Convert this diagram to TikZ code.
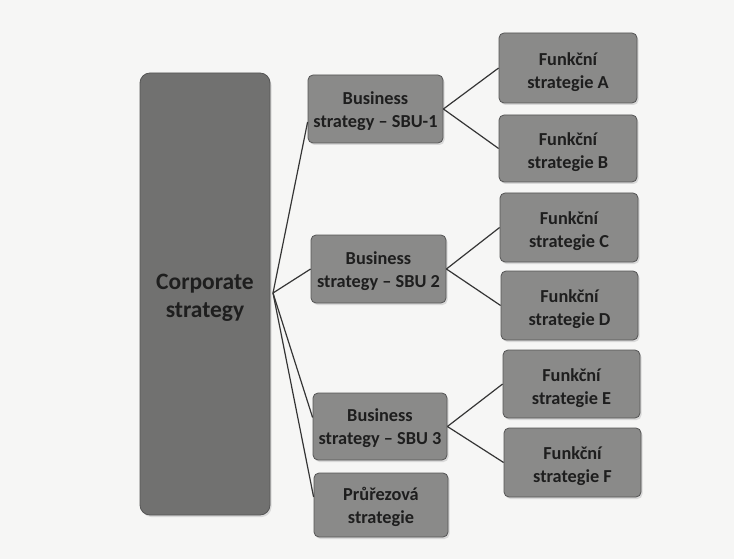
\documentclass[tikz,border=0pt]{standalone}
\usepackage{fontspec}
\setmainfont{Carlito}
\usetikzlibrary{shadows}
\definecolor{pagebg}{HTML}{F6F6F5}
\definecolor{boxfill}{HTML}{8A8A89}
\definecolor{bigfill}{HTML}{717170}
\definecolor{boxline}{HTML}{555555}
\definecolor{inktext}{HTML}{1E1E1E}
\definecolor{linkline}{HTML}{353535}
\tikzset{
  box/.style={rectangle, rounded corners=5pt, draw=boxline, line width=0.8pt,
    fill=boxfill, inner sep=0pt,
    drop shadow={shadow xshift=1.5pt, shadow yshift=-2pt, fill=black!22, opacity=0.6}},
  bigbox/.style={box, rounded corners=10pt, fill=bigfill},
  boxtext/.style={text=inktext, align=center, inner sep=0pt,
    font=\fontsize{18.3}{23}\selectfont\bfseries},
  bigtext/.style={boxtext, font=\fontsize{23.5}{28}\selectfont\bfseries},
  link/.style={draw=linkline, line width=1.2pt}
}
\begin{document}
\begin{tikzpicture}[x=1pt, y=-1pt]
  \fill[pagebg] (0,0) rectangle (734,559);
  \useasboundingbox (0,0) rectangle (734,559);

  % corporate level
  \node[bigbox, minimum width=130pt, minimum height=442pt] (corp) at (205,294) {};
  \node[bigtext] (corpt) at ([yshift=-4pt]corp.center) {Corporate\\strategy};
  \coordinate (hub) at (273,293);

  % business level
  \node[box, minimum width=135pt, minimum height=68pt] (s1) at (375.5,109) {};
  \node[box, minimum width=135pt, minimum height=68pt] (s2) at (378.5,269) {};
  \node[box, minimum width=134pt, minimum height=67pt] (s3) at (380,426.5) {};
  \node[box, minimum width=134pt, minimum height=64pt] (pr) at (381,505) {};
  \node[boxtext] (s1t) at ([yshift=-2pt]s1.center) {Business\\strategy – SBU-1};
  \node[boxtext] (s2t) at ([yshift=-2pt]s2.center) {Business\\strategy – SBU 2};
  \node[boxtext] (s3t) at ([yshift=-2pt]s3.center) {Business\\strategy – SBU 3};
  \node[boxtext] (prt) at ([yshift=-2pt]pr.center) {Průřezová\\strategie};

  % functional level
  \node[box, minimum width=138pt, minimum height=70pt] (fa) at (568,68) {};
  \node[box, minimum width=138pt, minimum height=67pt] (fb) at (568,148.5) {};
  \node[box, minimum width=138pt, minimum height=69pt] (fc) at (569,227.5) {};
  \node[box, minimum width=137pt, minimum height=69pt] (fd) at (569.5,305.5) {};
  \node[box, minimum width=137pt, minimum height=68pt] (fe) at (571.5,384) {};
  \node[box, minimum width=137pt, minimum height=69pt] (ff) at (572.5,462.5) {};
  \node[boxtext] (fat) at ([yshift=-4pt]fa.center) {Funkční\\strategie A};
  \node[boxtext] (fbt) at ([yshift=-4pt]fb.center) {Funkční\\strategie B};
  \node[boxtext] (fct) at ([yshift=-4pt]fc.center) {Funkční\\strategie C};
  \node[boxtext] (fdt) at ([yshift=-4pt]fd.center) {Funkční\\strategie D};
  \node[boxtext] (fet) at ([yshift=-4pt]fe.center) {Funkční\\strategie E};
  \node[boxtext] (fft) at ([yshift=-4pt]ff.center) {Funkční\\strategie F};

  % connectors
  \draw[link] (hub) -- ([yshift=-13pt]s1.west);
  \draw[link] (hub) -- (s2.west);
  \draw[link] (hub) -- ([yshift=9pt]s3.west);
  \draw[link] (hub) -- ([yshift=8pt]pr.west);

  \draw[link] (s1.east) -- (fa.west);
  \draw[link] (s1.east) -- (fb.west);
  \draw[link] (s2.east) -- (fc.west);
  \draw[link] (s2.east) -- (fd.west);
  \draw[link] (s3.east) -- (fe.west);
  \draw[link] (s3.east) -- (ff.west);
\end{tikzpicture}
\end{document}
